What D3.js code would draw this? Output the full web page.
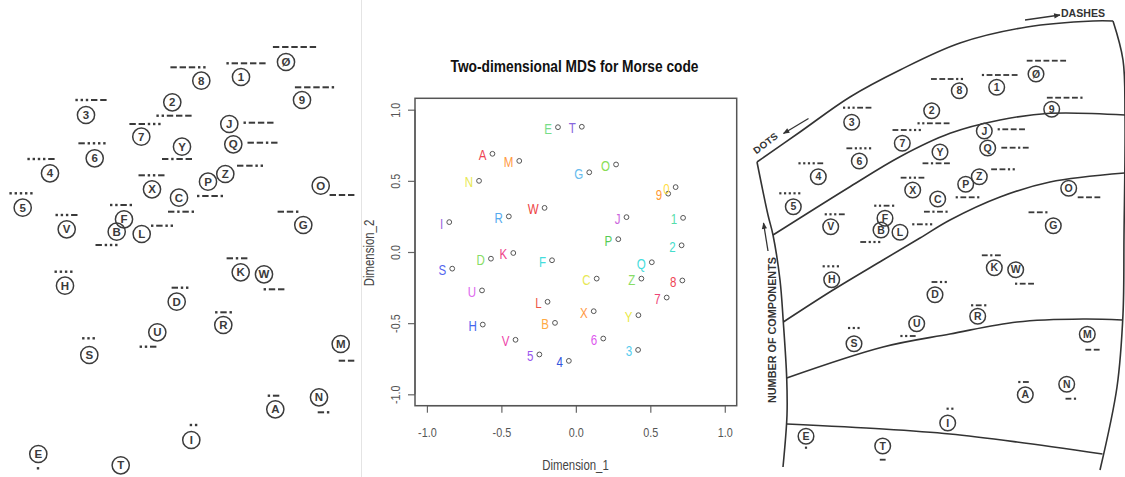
<!DOCTYPE html>
<html><head><meta charset="utf-8">
<script src="https://cdn.jsdelivr.net/npm/d3@7"></script>
<style>body{margin:0;background:#fff} svg{display:block}</style>
</head><body>
<svg id="c" width="1125" height="477"></svg>
<script>
// ---------- shared symbol list ----------
const symbols = ["A","B","C","D","E","F","G","H","I","J","K","L","M","N","O","P","Q","R","S","T","U","V","W","X","Y","Z","1","2","3","4","5","6","7","8","9","0"];
const codes = [".-","-...","-.-.","-..",".","..-.","--.","....","..",".---","-.-",".-..","--","-.","---",".--.","--.-",".-.","...","-","..-","...-",".--","-..-","-.--","--..",".----","..---","...--","....-",".....","-....","--...","---..","----.","-----"];
const scanLabels = symbols.map(s => s === "0" ? "Ø" : s);

// ---------- middle panel: MDS ----------
const dim1 = [-0.56,-0.14,0.14,-0.57,-0.12,-0.16,0.09,-0.625,-0.85,0.34,-0.42,-0.19,-0.38,-0.65,0.27,0.285,0.51,-0.45,-0.83,0.04,-0.63,-0.405,-0.21,0.12,0.42,0.44,0.72,0.71,0.418,-0.047,-0.245,0.184,0.61,0.715,0.62,0.67];
const dim2 = [0.69,-0.498,-0.187,-0.047,0.877,-0.058,0.56,-0.51,0.21,0.245,-0.007,-0.35,0.64,0.50,0.615,0.09,-0.072,0.25,-0.117,0.88,-0.27,-0.617,0.31,-0.416,-0.444,-0.187,0.24,0.047,-0.688,-0.765,-0.72,-0.608,-0.32,-0.2,0.41,0.456];
const labelColors = ["#EE4455","#FFAA44","#E8E855","#88DD66","#77DD88","#44DDDD","#66BBEE","#4466EE","#9966DD","#CC66DD","#EE4488","#EE5544","#FF9944","#E8E855","#88DD55","#55CC55","#44DDDD","#55AAEE","#5566EE","#8866DD","#DD66EE","#EE44AA","#EE4444","#FF9944","#E8E844","#88DD66","#55DDAA","#44DDCC","#55CCEE","#3355DD","#9955EE","#DD55EE","#EE4477","#EE4455","#FF9933","#FFDD44"];
const axisTicks = [-1.0,-0.5,0.0,0.5,1.0];
const tickLabels = ["-1.0","-0.5","0.0","0.5","1.0"];
const mdsTitle = "Two-dimensional MDS for Morse code";

// ---------- left panel: scanned configuration (units) ----------
const leftX = [27.53,11.67,17.9,17.67,3.83,12.4,30.33,6.5,19.13,22.93,24.07,14.17,34.07,31.9,32.07,20.8,23.33,22.33,8.93,12.07,15.73,6.67,26.4,15.2,18.2,22.53,24.1,17.23,8.6,5.0,2.27,9.47,14.13,20.13,30.2,28.6];
const leftY = [6.77,24.53,27.93,17.53,2.3,25.77,25.2,19.13,3.7,35.3,20.47,24.3,13.3,7.97,29.13,29.53,33.27,15.2,12.2,1.17,14.47,24.77,20.27,28.77,33.03,30.3,40.0,37.47,36.2,30.37,26.93,31.87,34.03,39.63,37.7,41.5];
const leftCodeX = [27.35,10.65,18.1,18.0,3.8,12.1,28.8,6.35,19.35,25.85,23.7,16.2,34.65,32.35,34.2,21.0,26.25,22.35,8.85,12.1,14.8,6.65,27.4,15.15,17.7,25.0,24.6,17.4,9.1,4.1,2.1,9.2,14.5,18.8,31.45,29.45];
const leftCodeY = [8.13,23.2,26.53,18.93,0.87,27.2,26.53,20.53,5.2,35.43,21.87,25.13,11.63,6.47,28.2,28.1,33.43,16.47,13.87,-0.3,13.03,26.2,18.77,30.17,31.8,31.13,41.37,36.13,37.7,31.8,28.37,33.37,35.3,40.97,38.97,43.0];

// ---------- right panel: scanned configuration (units) ----------
const rightX = [27.53,13.1,18.77,18.5,5.6,13.5,30.33,8.17,19.77,23.43,24.43,15.0,33.73,31.67,31.87,21.57,23.77,22.77,10.4,13.27,16.67,8.07,26.57,16.27,19.0,22.93,24.67,18.17,10.17,6.83,4.33,10.93,15.23,20.93,30.17,28.6];
const rightY = [8.23,24.7,27.8,18.23,4.07,25.87,25.13,19.73,5.4,34.6,20.93,24.47,14.27,9.27,28.87,29.27,32.9,16.07,13.33,3.1,15.33,25.03,20.73,28.7,32.5,30.03,38.97,36.63,35.47,30.03,27.03,31.6,33.37,38.63,36.77,40.3];
const rightCodeX = [27.35,12.03,18.58,18.92,5.6,13.42,28.8,8.08,20.0,26.13,24.13,17.22,34.25,32.08,33.9,21.75,26.5,22.87,10.38,13.27,15.8,8.47,27.45,16.25,18.62,25.3,24.97,18.35,10.72,6.08,3.98,10.88,15.67,19.7,31.47,29.64];
const rightCodeY = [9.5,23.5,26.53,19.5,2.93,27.13,26.47,21.07,6.83,34.77,22.17,25.27,12.73,7.83,27.97,27.97,32.93,17.17,14.9,1.73,14.1,26.27,19.33,29.93,31.37,30.77,40.2,35.37,36.93,31.37,28.37,32.87,34.7,39.8,37.93,41.63];
// band outlines (units)
const outlineTop = [[0.7,31.5],[5,34.5],[10,38],[15,40.7],[21,43.4],[27.7,45],[34.3,45.6],[36.3,45.6]];
const outlineRight = [[36.3,45.6],[37.3,41.7],[37.5,36.2],[37.4,24],[37.3,16.3],[36.7,9],[35,0.7]];
const outlineLeft = [[0.7,31.5],[1.8,26.2],[2.3,24.2],[3,19.7],[3.33,15.5],[3.67,9.9],[3.7,6.2],[3.3,1.0]];
const band1 = [[2.3,24.2],[10,29.03],[15,32.03],[20,34.37],[25,35.7],[30,36.37],[37.5,36.2]];
const band2 = [[3.33,15.5],[8.3,18.7],[13.3,21.7],[17,23.9],[20,25.7],[25,28],[30,29.5],[37.45,30.4]];
const band3 = [[3.67,9.9],[13.3,13],[20,14.3],[26.7,15.5],[33.3,15.8],[37.2,15.7]];
const band4 = [[3.7,5.3],[13.3,4.8],[20,4.3],[26.7,3.5],[35.25,2.3]];
const annText = ["DASHES","DOTS","NUMBER OF COMPONENTS"];
const annPos = [[33.3,46.0],[1.75,33.1],[2.6,14.7]];
const annAngle = [0,-37,-90];
const arrows = [[[27.5,45.7],[31.0,46.2]],[[5.85,35.85],[3.35,34.35]],[[1.8,22.6],[1.35,25.4]]];

// ---------- drawing ----------
const svg = d3.select("#c");
svg.append("rect").attr("width",1125).attr("height",477).attr("fill","#fff");
svg.append("line").attr("x1",361.5).attr("x2",361.5).attr("y1",0).attr("y2",477)
   .attr("stroke","#e4e4e4").attr("stroke-width",1);

const yUnit = d3.scaleLinear().domain([0,47.7]).range([477,0]);
const xLeft = d3.scaleLinear().domain([0,36]).range([0,360]);
const xRight = d3.scaleLinear().domain([0,37.5]).range([750,1125]);

function drawCode(g, code, cx, cy, s, color){
  const dotW=2.4*s, dashW=6.4*s, gap=2.8*s;
  const widths = code.split("").map(c => c === "." ? dotW : dashW);
  const total = d3.sum(widths) + gap*(widths.length-1);
  let x = cx - total/2;
  code.split("").forEach((c,i)=>{
    const h = c === "." ? 2.4*s : 2.0*s;
    g.append("rect").attr("x",x).attr("y",cy-h/2).attr("width",widths[i]).attr("height",h).attr("fill",color);
    x += widths[i] + gap;
  });
}

function drawScan(g, xs, ys, cxs, cys, xScale, r, fs, codeScale){
  symbols.forEach((s,i)=>{
    const px = xScale(xs[i]), py = yUnit(ys[i]);
    g.append("circle").attr("cx",px).attr("cy",py).attr("r",r)
      .attr("fill","none").attr("stroke","#3c3c3c").attr("stroke-width",1.5);
    g.append("text").attr("x",px).attr("y",py).attr("dy","0.36em")
      .attr("text-anchor","middle").attr("font-family","Liberation Sans, Arial, sans-serif")
      .attr("font-size",fs).attr("font-weight","bold").attr("fill","#3a3a3a").text(scanLabels[i]);
    drawCode(g, codes[i], xScale(cxs[i]), yUnit(cys[i]), codeScale, "#3a3a3a");
  });
}

// left panel
const gL = svg.append("g");
drawScan(gL, leftX, leftY, leftCodeX, leftCodeY, xLeft, 8.6, 11.5, 1.0);

// right panel
const gR = svg.append("g");
const line = d3.line().x(d=>xRight(d[0])).y(d=>yUnit(d[1])).curve(d3.curveCatmullRom.alpha(0.5));
[outlineTop,outlineRight,outlineLeft,band1,band2,band3,band4].forEach(pts=>{
  gR.append("path").attr("d",line(pts)).attr("fill","none").attr("stroke","#333").attr("stroke-width",1.6);
});
svg.append("defs").append("marker").attr("id","ah").attr("viewBox","0 0 10 10").attr("refX",9).attr("refY",5)
  .attr("markerWidth",7).attr("markerHeight",5).attr("orient","auto")
  .append("path").attr("d","M0,1 L10,5 L0,9 Z").attr("fill","#333");
arrows.forEach(a=>{
  gR.append("line").attr("x1",xRight(a[0][0])).attr("y1",yUnit(a[0][1]))
    .attr("x2",xRight(a[1][0])).attr("y2",yUnit(a[1][1]))
    .attr("stroke","#333").attr("stroke-width",1.3).attr("marker-end","url(#ah)");
});
const annSize=[10,9.5,10.5], annLen=[44,28,146], annAnchor=["middle","middle","middle"];
annText.forEach((t,i)=>{
  gR.append("text").attr("transform",`translate(${xRight(annPos[i][0])},${yUnit(annPos[i][1])}) rotate(${annAngle[i]})`)
    .attr("text-anchor",annAnchor[i]).attr("font-family","Liberation Sans, Arial, sans-serif")
    .attr("font-size",annSize[i]).attr("font-weight","bold").attr("fill","#333")
    .attr("textLength",annLen[i]).attr("lengthAdjust","spacingAndGlyphs").text(t);
});
drawScan(gR, rightX, rightY, rightCodeX, rightCodeY, xRight, 7.8, 10.5, 0.91);

// middle panel (R style plot)
const gM = svg.append("g");
const x = d3.scaleLinear().domain([-1.08,1.08]).range([415,736.7]);
const y = d3.scaleLinear().domain([-1.08,1.08]).range([405.7,98.3]);
const font = "Liberation Sans, Arial, sans-serif";
function squeeze(sel, f){ sel.each(function(){ const w=this.getComputedTextLength(); d3.select(this).attr("textLength",w*f).attr("lengthAdjust","spacingAndGlyphs"); }); }

gM.append("text").attr("x",574.5).attr("y",71.5).attr("text-anchor","middle")
  .attr("font-family",font).attr("font-weight","bold").attr("font-size",17).attr("fill","#111")
  .attr("textLength",248).attr("lengthAdjust","spacingAndGlyphs").text(mdsTitle);

const xa = gM.append("g").attr("transform",`translate(0,${y.range()[0]})`)
  .call(d3.axisBottom(x).tickValues(axisTicks).tickFormat((d,i)=>tickLabels[i]).tickSize(7).tickSizeOuter(0));
const ya = gM.append("g").attr("transform",`translate(${x.range()[0]},0)`)
  .call(d3.axisLeft(y).tickValues(axisTicks).tickFormat((d,i)=>tickLabels[i]).tickSize(7).tickSizeOuter(0));
[xa,ya].forEach(a=>{
  a.select(".domain").remove();
  a.selectAll(".tick line").attr("stroke","#666").attr("stroke-width",1.2);
  a.selectAll(".tick text").attr("font-family",font).attr("font-size",13.5).attr("fill","#555");
});
xa.selectAll(".tick text").attr("y",31).attr("dy",0);
ya.selectAll(".tick text").attr("transform","rotate(-90)").attr("x",0).attr("y",-15).attr("dy",0).attr("text-anchor","middle");
squeeze(xa.selectAll(".tick text"),0.8);
squeeze(ya.selectAll(".tick text"),0.8);
// axis lines from first to last tick (R style)
gM.append("line").attr("x1",x(-1)).attr("x2",x(1)).attr("y1",y.range()[0]).attr("y2",y.range()[0]).attr("stroke","#666").attr("stroke-width",1.2);
gM.append("line").attr("y1",y(-1)).attr("y2",y(1)).attr("x1",x.range()[0]).attr("x2",x.range()[0]).attr("stroke","#666").attr("stroke-width",1.2);

gM.append("rect").attr("x",x.range()[0]).attr("y",y.range()[1])
  .attr("width",x.range()[1]-x.range()[0]).attr("height",y.range()[0]-y.range()[1])
  .attr("fill","none").attr("stroke","#555").attr("stroke-width",1.5);

const xt = gM.append("text").attr("x",575.5).attr("y",470).attr("text-anchor","middle")
  .attr("font-family",font).attr("font-size",15).attr("fill","#444").text("Dimension_1");
squeeze(xt,0.76);
const yt = gM.append("text").attr("transform","translate(374,253) rotate(-90)").attr("text-anchor","middle")
  .attr("font-family",font).attr("font-size",15).attr("fill","#444").text("Dimension_2");
squeeze(yt,0.76);

const pts = gM.append("g");
symbols.forEach((s,i)=>{
  pts.append("circle").attr("cx",x(dim1[i])).attr("cy",y(dim2[i])).attr("r",2.4)
    .attr("fill","none").attr("stroke","#555").attr("stroke-width",1);
});
const labs = pts.selectAll("text.lab").data(symbols).join("text").attr("class","lab")
  .attr("x",(d,i)=>x(dim1[i])-6).attr("y",(d,i)=>y(dim2[i])+6.5)
  .attr("text-anchor","end").attr("font-family",font).attr("font-size",15)
  .attr("fill",(d,i)=>labelColors[i]).text(d=>d);
squeeze(labs,0.77);
</script>
</body></html>
